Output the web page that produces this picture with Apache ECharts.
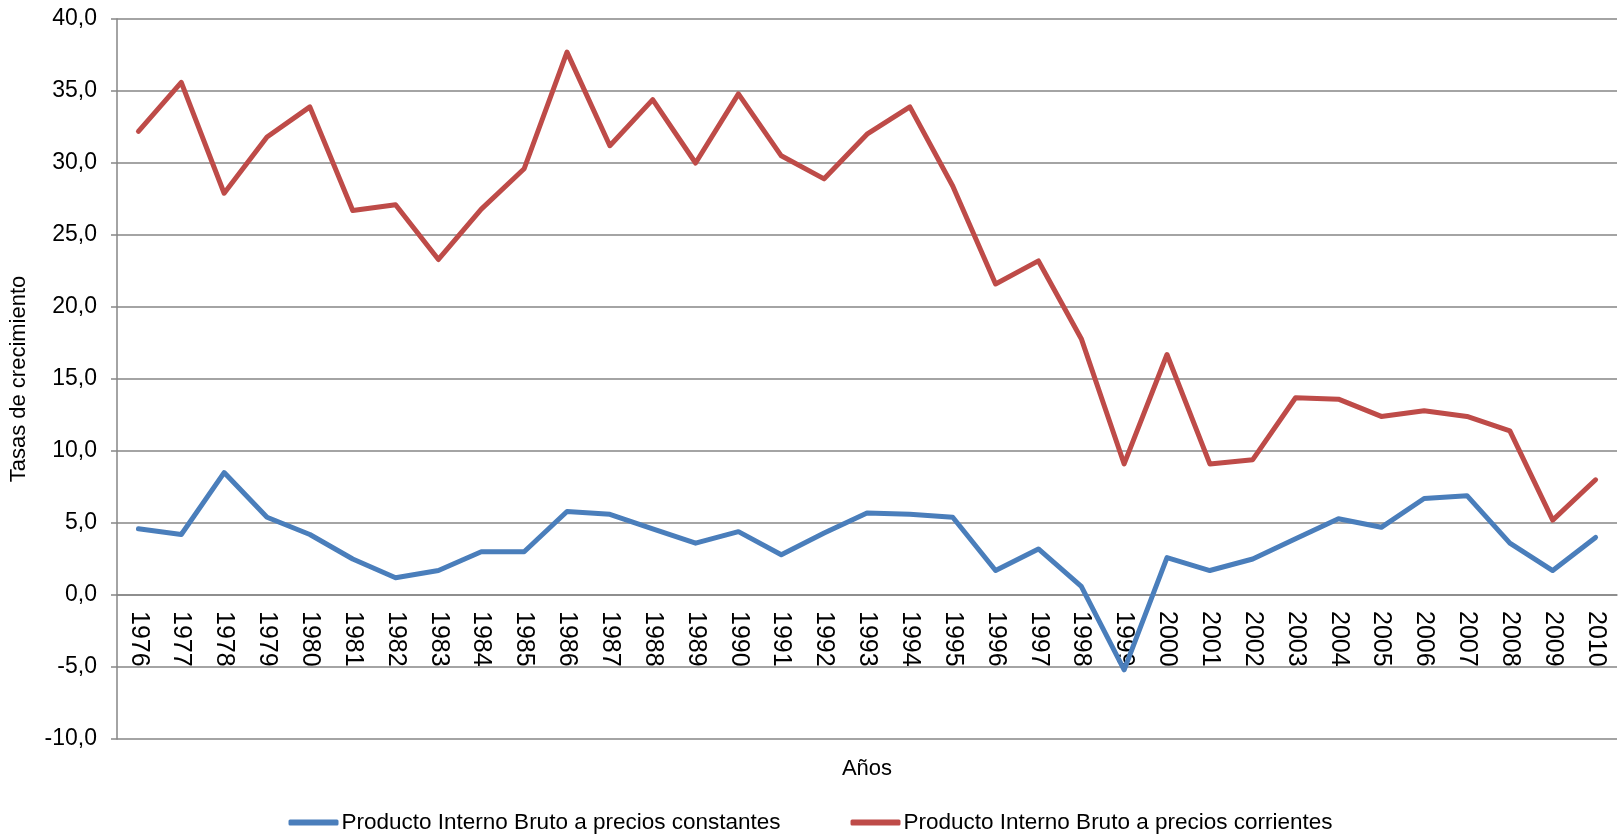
<!DOCTYPE html>
<html>
<head>
<meta charset="utf-8">
<title>PIB tasas de crecimiento</title>
<script src="https://cdn.jsdelivr.net/npm/echarts@6/dist/echarts.min.js"></script>
<style>
html, body { margin: 0; padding: 0; background: #fff; }
#chart1 { width: 1621px; height: 836px; }
</style>
</head>
<body>
<div id="chart1"></div>
<script>
var years = ["1976","1977","1978","1979","1980","1981","1982","1983","1984","1985",
  "1986","1987","1988","1989","1990","1991","1992","1993","1994","1995",
  "1996","1997","1998","1999","2000","2001","2002","2003","2004","2005",
  "2006","2007","2008","2009","2010"];

// PIB a precios constantes
var constantes = [4.6, 4.2, 8.5, 5.4, 4.2, 2.5, 1.2, 1.7, 3.0, 3.0,
  5.8, 5.6, 4.6, 3.6, 4.4, 2.8, 4.3, 5.7, 5.6, 5.4,
  1.7, 3.2, 0.6, -5.2, 2.6, 1.7, 2.5, 3.9, 5.3, 4.7,
  6.7, 6.9, 3.6, 1.7, 4.0];

// PIB a precios corrientes
var corrientes = [32.2, 35.6, 27.9, 31.8, 33.9, 26.7, 27.1, 23.3, 26.8, 29.6,
  37.7, 31.2, 34.4, 30.0, 34.8, 30.5, 28.9, 32.0, 33.9, 28.4,
  21.6, 23.2, 17.8, 9.1, 16.7, 9.1, 9.4, 13.7, 13.6, 12.4,
  12.8, 12.4, 11.4, 5.2, 8.0];

var nombres = ["Producto Interno Bruto a precios constantes",
  "Producto Interno Bruto a precios corrientes"];

var dom = document.getElementById("chart1");
var myChart = echarts.init(dom);
var fuente = "'Liberation Sans', Arial, sans-serif";
var gris = '#868686';

var option = {
    backgroundColor: '#fff',
    animation: false,
    grid: {
        left: 114,
        right: 4,
        top: 19,
        bottom: 97
    },
    legend: {
        data: nombres,
        top: 806,
        left: 'center',
        icon: 'roundRect',
        itemWidth: 50,
        itemHeight: 6,
        itemGap: 70,
        textStyle: {
            fontFamily: fuente,
            fontSize: 22.5,
            color: '#000',
            padding: [0, 0, 0, -2]
        }
    },
    xAxis: {
        type: 'category',
        data: years,
        name: 'Años',
        nameLocation: 'middle',
        nameGap: 163,
        nameTextStyle: {fontFamily: fuente, fontSize: 22, color: '#000'},
        offset: -144, // el eje de categorías cruza en 0,0
        axisLine: {onZero: false, lineStyle: {color: gris, width: 1.5}},
        axisTick: {length: 6, lineStyle: {color: gris, width: 1.5}},
        axisLabel: {
            interval: 0,
            rotate: -90,
            margin: 16,
            fontFamily: fuente,
            fontSize: 25,
            color: '#000'
        }
    },
    yAxis: {
        type: 'value',
        min: -10,
        max: 40,
        interval: 5,
        name: 'Tasas de crecimiento',
        nameLocation: 'middle',
        nameGap: 87,
        nameTextStyle: {fontFamily: fuente, fontSize: 22, color: '#000'},
        axisLine: {show: true, lineStyle: {color: gris, width: 1.5}},
        axisTick: {show: true, length: 6, lineStyle: {color: gris, width: 1.5}},
        splitLine: {show: true, lineStyle: {color: gris, width: 1.5}},
        axisLabel: {
            margin: 20,
            fontFamily: fuente,
            fontSize: 23,
            color: '#000',
            formatter: function (v) {
                return v.toFixed(1).replace('.', ',');
            }
        }
    },
    series: [
        {
            name: nombres[0],
            type: 'line',
            data: constantes,
            symbol: 'none',
            color: '#4A7EBB',
            lineStyle: {width: 5, color: '#4A7EBB', join: 'round', cap: 'round'}
        },
        {
            name: nombres[1],
            type: 'line',
            data: corrientes,
            symbol: 'none',
            color: '#BE4B48',
            lineStyle: {width: 5, color: '#BE4B48', join: 'round', cap: 'round'}
        }
    ]
};

if (option && typeof option === "object") {
    myChart.setOption(option, true);
}
</script>
</body>
</html>
